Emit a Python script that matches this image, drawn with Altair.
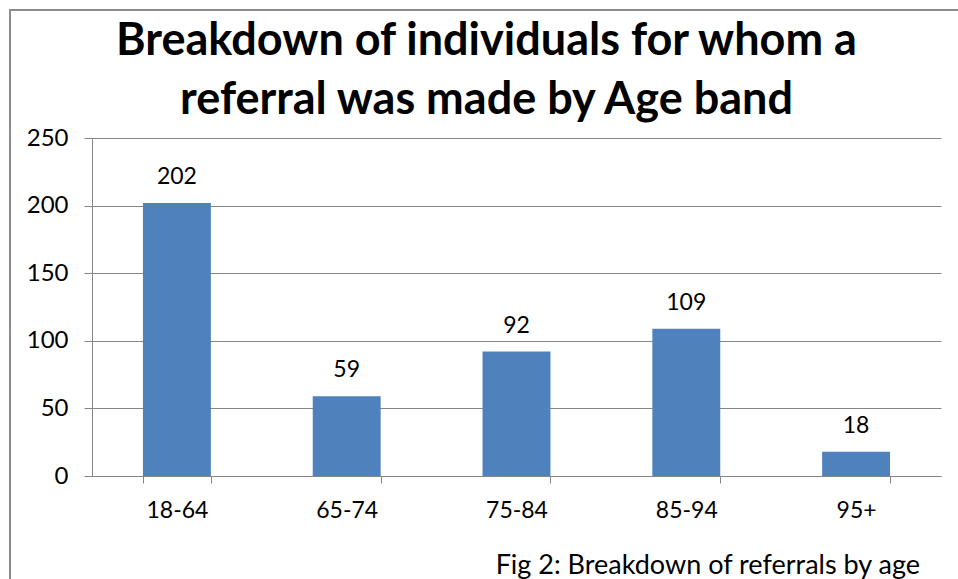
import altair as alt
import pandas as pd

categories = ["18-64", "65-74", "75-84", "85-94", "95+"]
values = [202, 59, 92, 109, 18]
title_lines = ["Breakdown of individuals for whom a", "referral was made by Age band"]
caption = ["Fig 2: Breakdown of referrals by age"]

df = pd.DataFrame({"age": categories, "count": values})
FONT = "Lato"
GREY = "#868686"

x = alt.X("age:N", sort=categories, title=None,
          scale=alt.Scale(paddingInner=0.6, paddingOuter=0.3),
          axis=alt.Axis(labelAngle=0, labelFontSize=23, labelFont=FONT, labelColor="black",
                        tickBand="extent", tickSize=7, tickColor=GREY, domainColor=GREY,
                        labelPadding=16, grid=False))
y = alt.Y("count:Q", title=None,
          scale=alt.Scale(domain=[0, 250], nice=False),
          axis=alt.Axis(values=[0, 50, 100, 150, 200, 250], labelFontSize=24, labelFont=FONT,
                        labelColor="black", tickSize=8, tickColor=GREY, domainColor=GREY,
                        gridColor=GREY, gridOpacity=1, labelPadding=16))

bars = alt.Chart(df).mark_bar(color="#4F81BD").encode(x=x, y=y)
labels = alt.Chart(df).mark_text(dy=-26, fontSize=23, font=FONT, color="black").encode(
    x=alt.X("age:N", sort=categories), y="count:Q", text="count:Q")
cap = alt.Chart(pd.DataFrame({"t": caption})).mark_text(
    align="right", baseline="middle", fontSize=27, font=FONT, color="black").encode(
    x=alt.value(828), y=alt.value(428), text="t:N")
frame = alt.Chart(pd.DataFrame({"t": caption})).mark_rect(
    fill=None, stroke="#8c8c8c", strokeWidth=2).encode(
    x=alt.value(-82), y=alt.value(-128), x2=alt.value(900), y2=alt.value(470))

chart = alt.layer(frame, bars, labels, cap).properties(
    width=849, height=338,
    title=alt.TitleParams(title_lines, fontSize=45, font=FONT, fontWeight="bold", color="black",
                          anchor="middle", dx=-30, lineHeight=59, baseline="alphabetic",
                          offset=-150),
    autosize="none",
    padding={"left": 92, "top": 138, "right": 17, "bottom": 103},
    background="white",
).configure_view(stroke=None)

chart.save("out.html", embed_options={"renderer": "svg", "actions": False})
